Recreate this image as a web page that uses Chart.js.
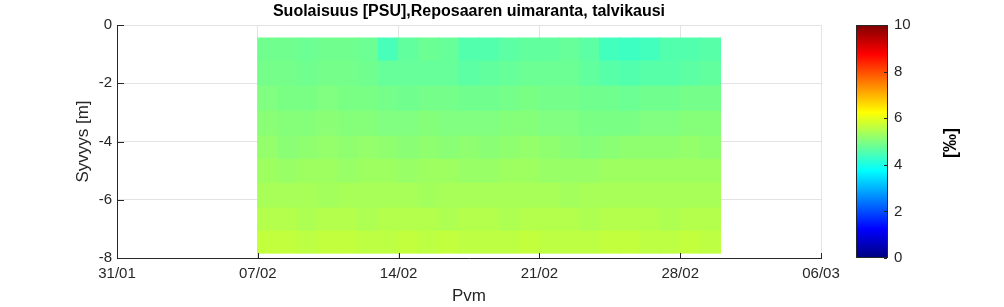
<!DOCTYPE html>
<html>
<head>
<meta charset="utf-8">
<script src="https://cdn.jsdelivr.net/npm/chart.js@4"></script>
<style>
  html, body { margin: 0; padding: 0; background: #fff; }
</style>
</head>
<body>
<canvas id="canvas" width="1004" height="307" style="width:1004px;height:307px;display:block"></canvas>
<script>
// tick labels of the date axis (days since 31/01, every 7 days)
var DATE_LABELS = ['31/01', '07/02', '14/02', '21/02', '28/02', '06/03'];
// start day of each measurement column (days since 31/01)
var DAYS = [7, 8, 9, 10, 11, 12, 13, 14, 15, 16, 17, 18, 19, 20, 21, 22, 23, 24, 25, 26, 27, 28, 29];
// depth layer edges [m], top to bottom
var DEPTH_EDGES = [-0.45, -1.2, -2.06, -2.92, -3.78, -4.57, -5.39, -6.25, -7.04, -7.83];

// salinity per layer, top to bottom
var layer1 = [4.85, 4.85, 4.80, 4.85, 4.85, 4.80, 4.45, 4.70, 4.80, 4.75, 4.55, 4.55, 4.65, 4.70, 4.70, 4.75, 4.65, 4.40, 4.35, 4.40, 4.55, 4.55, 4.60];
var layer2 = [4.90, 4.90, 4.85, 4.90, 4.90, 4.85, 4.75, 4.75, 4.75, 4.75, 4.65, 4.70, 4.75, 4.80, 4.80, 4.80, 4.70, 4.60, 4.55, 4.60, 4.60, 4.65, 4.70];
var layer3 = [5.00, 4.95, 4.95, 5.00, 4.95, 4.95, 4.90, 4.85, 4.90, 4.90, 4.85, 4.85, 4.90, 4.95, 4.90, 4.90, 4.85, 4.85, 4.80, 4.85, 4.85, 4.90, 4.90];
var layer4 = [5.10, 5.05, 5.05, 5.10, 5.05, 5.05, 5.00, 5.00, 5.05, 5.00, 5.00, 5.00, 5.05, 5.05, 5.00, 5.00, 4.95, 4.95, 4.95, 5.00, 5.00, 5.05, 5.05];
var layer5 = [5.20, 5.10, 5.15, 5.20, 5.15, 5.20, 5.15, 5.10, 5.15, 5.10, 5.15, 5.10, 5.15, 5.20, 5.15, 5.10, 5.05, 5.10, 5.15, 5.15, 5.15, 5.20, 5.15];
var layer6 = [5.30, 5.25, 5.30, 5.30, 5.25, 5.30, 5.30, 5.25, 5.30, 5.30, 5.25, 5.25, 5.30, 5.30, 5.25, 5.25, 5.25, 5.30, 5.30, 5.30, 5.30, 5.30, 5.30];
var layer7 = [5.40, 5.40, 5.40, 5.35, 5.40, 5.40, 5.40, 5.40, 5.35, 5.40, 5.40, 5.40, 5.40, 5.40, 5.40, 5.35, 5.40, 5.40, 5.40, 5.40, 5.40, 5.40, 5.40];
var layer8 = [5.50, 5.50, 5.45, 5.50, 5.50, 5.45, 5.50, 5.50, 5.50, 5.45, 5.50, 5.50, 5.45, 5.50, 5.50, 5.50, 5.45, 5.50, 5.50, 5.50, 5.45, 5.50, 5.50];
var layer9 = [5.65, 5.65, 5.60, 5.65, 5.65, 5.60, 5.60, 5.65, 5.60, 5.65, 5.60, 5.60, 5.60, 5.65, 5.60, 5.60, 5.60, 5.65, 5.65, 5.60, 5.60, 5.65, 5.60];
var LAYERS = [layer1, layer2, layer3, layer4, layer5, layer6, layer7, layer8, layer9];

var CB_MIN = 0, CB_MAX = 10;
var TEXT = '#262626';

// matlab jet colormap
function jet(v) {
    var t = (v - CB_MIN) / (CB_MAX - CB_MIN);
    var f = function(c) {
        return Math.round(255 * Math.max(0, Math.min(1, 1.5 - Math.abs(4 * t - c))));
    };
    return 'rgb(' + f(3) + ',' + f(2) + ',' + f(1) + ')';
}

var datasets = LAYERS.map(function(vals, r) {
    return {
        data: DAYS.map(function(d) {
            return { x: d + 0.5, y: [DEPTH_EDGES[r + 1], DEPTH_EDGES[r]] };
        }),
        backgroundColor: vals.map(jet),
        borderWidth: 0,
        inflateAmount: 0.6,
        barPercentage: 1,
        categoryPercentage: 1,
        grouped: false
    };
});

var extras = {
    id: 'extras',
    afterDraw: function(chart) {
        var ctx = chart.ctx;
        var x = chart.scales.x, y = chart.scales.y, cb = chart.scales.cb;
        var area = chart.chartArea;
        ctx.save();
        ctx.strokeStyle = TEXT;
        ctx.lineWidth = 1;
        // inward tick marks
        ctx.beginPath();
        x.ticks.forEach(function(t) {
            var px = Math.round(x.getPixelForValue(t.value)) + 0.5;
            ctx.moveTo(px, area.bottom);
            ctx.lineTo(px, area.bottom - 5);
        });
        y.ticks.forEach(function(t) {
            var py = Math.round(y.getPixelForValue(t.value)) + 0.5;
            ctx.moveTo(area.left, py);
            ctx.lineTo(area.left + 7, py);
        });
        ctx.stroke();

        // colorbar
        var x0 = 856, x1 = 888;
        var yb = cb.getPixelForValue(CB_MIN), yt = cb.getPixelForValue(CB_MAX);
        var g = ctx.createLinearGradient(0, yb, 0, yt);
        for (var i = 0; i <= 40; i++) {
            g.addColorStop(i / 40, jet(CB_MIN + (CB_MAX - CB_MIN) * i / 40));
        }
        ctx.fillStyle = g;
        ctx.fillRect(x0, yt, x1 - x0, yb - yt);
        ctx.strokeRect(x0 + 0.5, Math.round(yt) + 0.5, x1 - x0 - 1, Math.round(yb - yt) - 1);
        ctx.beginPath();
        cb.ticks.forEach(function(t) {
            var py = Math.round(cb.getPixelForValue(t.value)) + 0.5;
            ctx.moveTo(x1 - 1, py);
            ctx.lineTo(x1 - 4, py);
        });
        ctx.stroke();

        // colorbar label
        ctx.translate(951, 143);
        ctx.rotate(-Math.PI / 2);
        ctx.fillStyle = '#000';
        ctx.font = 'bold 18px "Liberation Sans", Arial, sans-serif';
        ctx.textAlign = 'center';
        ctx.textBaseline = 'middle';
        ctx.fillText('[\u2030]', 0, 0);
        ctx.restore();
    }
};

Chart.defaults.font.family = '"Liberation Sans", Arial, sans-serif';
Chart.defaults.color = TEXT;

window.onload = function() {
    var ctx = document.getElementById('canvas').getContext('2d');
    window.myChart = new Chart(ctx, {
        type: 'bar',
        data: { datasets: datasets },
        options: {
            responsive: false,
            animation: false,
            layout: { padding: 0 },
            plugins: {
                legend: { display: false },
                tooltip: { enabled: false },
                title: {
                    display: true,
                    fullSize: false,
                    text: 'Suolaisuus [PSU],Reposaaren uimaranta, talvikausi',
                    color: '#000',
                    font: { size: 16, weight: 'bold' },
                    padding: { top: 2, bottom: 3.8 }
                }
            },
            scales: {
                x: {
                    type: 'linear',
                    min: 0,
                    max: 35,
                    offset: false,
                    grid: { offset: false, color: '#e3e3e3', drawTicks: false },
                    border: { color: TEXT },
                    ticks: {
                        stepSize: 7,
                        padding: 7,
                        maxRotation: 0,
                        font: { size: 15 },
                        callback: function(v) { return DATE_LABELS[v / 7]; }
                    },
                    title: { display: true, text: 'Pvm', font: { size: 17 }, padding: { top: 0, bottom: 0 } },
                    afterFit: function(s) { s.height = 49; }
                },
                y: {
                    min: -8,
                    max: 0,
                    grid: { color: '#e3e3e3', drawTicks: false },
                    border: { color: TEXT },
                    ticks: { stepSize: 2, padding: 5, font: { size: 15 } },
                    title: { display: true, text: 'Syvyys [m]', font: { size: 17 }, padding: { top: 73, bottom: 0 } },
                    afterFit: function(s) { s.width = 117; }
                },
                cb: {
                    type: 'linear',
                    position: 'right',
                    min: CB_MIN,
                    max: CB_MAX,
                    // hidden tick length pushes the labels right of the colorbar
                    grid: { display: false, drawTicks: true, tickLength: 70 },
                    border: { display: false },
                    ticks: { stepSize: 2, padding: 3, font: { size: 15 } },
                    afterFit: function(s) { s.width = 183; }
                }
            }
        },
        plugins: [extras]
    });
};
</script>
</body>
</html>
